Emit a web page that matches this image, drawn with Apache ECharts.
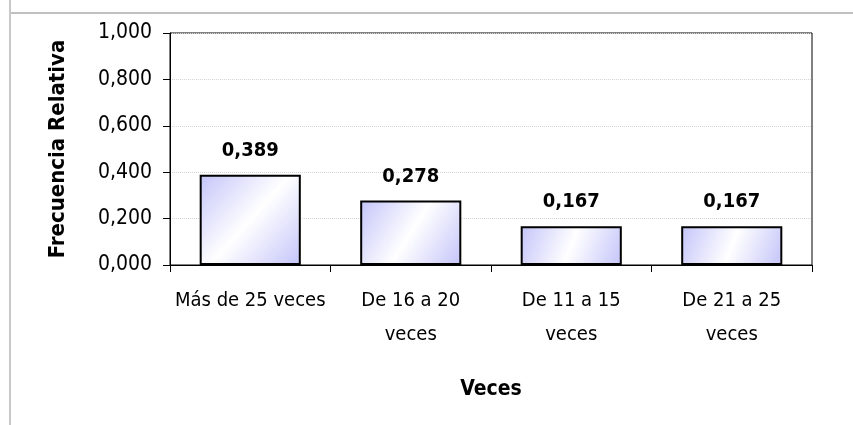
<!DOCTYPE html>
<html><head><meta charset="utf-8">
<script src="https://cdn.jsdelivr.net/npm/echarts@6/dist/echarts.min.js"></script>
<style>html,body{margin:0;padding:0;background:#fff}#c{width:853px;height:425px}</style>
</head><body><div id="c"></div>
<script>
const categories = ['Más de 25 veces', 'De 16 a 20\nveces', 'De 11 a 15\nveces', 'De 21 a 25\nveces'];
const values = [0.389, 0.278, 0.167, 0.167];
const yTicks = [0, 0.2, 0.4, 0.6, 0.8, 1.0];
const xTitle = 'Veces';
const yTitle = 'Frecuencia Relativa';

const FONT = '"DejaVu Sans Condensed", "DejaVu Sans", sans-serif';
const fmt = v => v.toFixed(3).replace('.', ',');
const chart = echarts.init(document.getElementById('c'), null, {renderer: 'canvas'});
chart.setOption({
  animation: false,
  backgroundColor: '#fff',
  graphic: [
    {type: 'line', shape: {x1: 10, y1: 13, x2: 853, y2: 13}, style: {stroke: '#c0c0c0', lineWidth: 2}},
    {type: 'line', shape: {x1: 10, y1: 0, x2: 10, y2: 425}, style: {stroke: '#c8c8c8', lineWidth: 2}}
  ],
  grid: {left: 170, right: 41, top: 33, bottom: 160, show: true, borderColor: '#000', borderWidth: 1, backgroundColor: 'transparent'},
  xAxis: {
    type: 'category', data: categories,
    name: xTitle, nameLocation: 'middle', nameGap: 114,
    nameTextStyle: {fontFamily: FONT, fontWeight: 'bold', fontSize: 21, color: '#000'},
    axisLine: {lineStyle: {color: '#000', width: 1}},
    axisTick: {show: true, length: 7, lineStyle: {color: '#000'}},
    axisLabel: {fontFamily: FONT, fontSize: 20, color: '#000', margin: 19, lineHeight: 34, interval: 0}
  },
  yAxis: {
    type: 'value', min: 0, max: 1, interval: 0.2,
    name: yTitle, nameLocation: 'middle', nameGap: 101, nameRotate: 90,
    nameTextStyle: {fontFamily: FONT, fontWeight: 'bold', fontSize: 22, color: '#000'},
    axisLine: {show: true, lineStyle: {color: '#000', width: 1}},
    axisTick: {show: true, length: 7, lineStyle: {color: '#000'}},
    axisLabel: {fontFamily: FONT, fontSize: 21, color: '#000', margin: 18, formatter: v => fmt(v)},
    splitLine: {show: true, lineStyle: {color: '#d4d4d4', type: 'dotted', width: 1}}
  },
  series: [{
    type: 'bar', data: values, barWidth: '63%',
    itemStyle: {
      color: {type: 'linear', x: 0, y: 0, x2: 1, y2: 1, colorStops: [
        {offset: 0, color: '#c4c4fa'}, {offset: 0.5, color: '#ffffff'}, {offset: 1, color: '#c4c4fa'}]},
      borderColor: '#000', borderWidth: 2
    },
    label: {show: true, position: 'top', distance: 14, fontFamily: FONT, fontWeight: 'bold', fontSize: 20, color: '#000', formatter: p => fmt(p.value)}
  }]
});
</script></body></html>
